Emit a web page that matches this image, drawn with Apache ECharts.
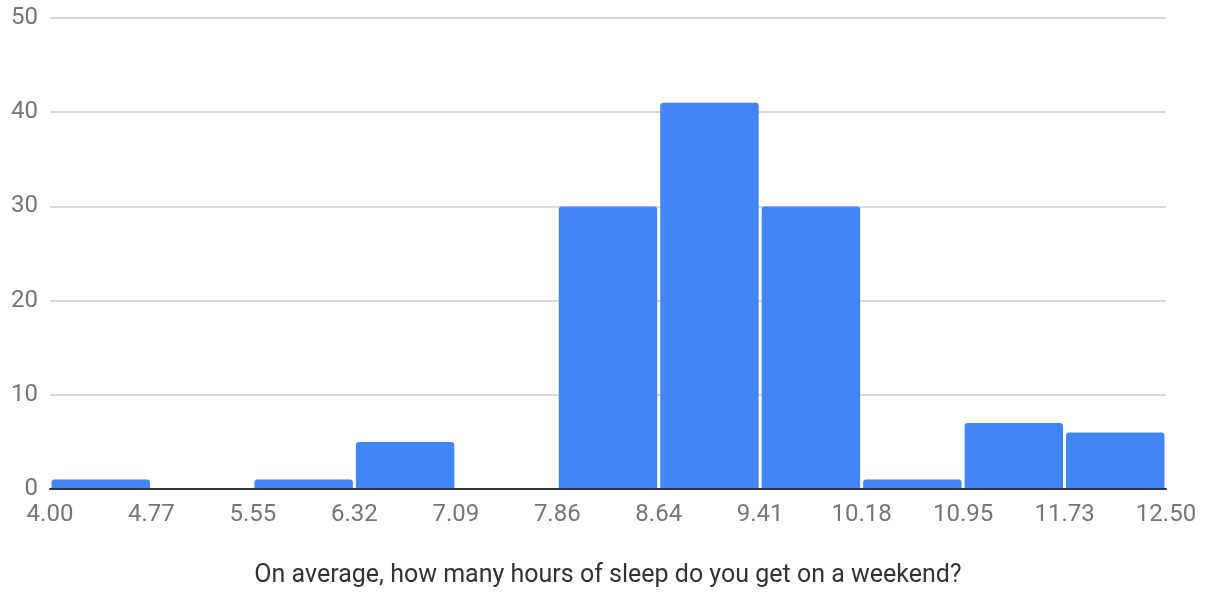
<!DOCTYPE html>
<html>
<head>
<meta charset="utf-8">
<script src="https://cdn.jsdelivr.net/npm/echarts@6/dist/echarts.min.js"></script>
<style>
  html, body { margin: 0; padding: 0; background: #fff; overflow: hidden; }
  #chart { width: 1212px; height: 593px; }
</style>
</head>
<body>
<div id="chart"></div>
<script>
// Bin boundaries (hours) shown under the axis
const binEdges = ['4.00', '4.77', '5.55', '6.32', '7.09', '7.86', '8.64', '9.41', '10.18', '10.95', '11.73', '12.50'];
// Number of responses in each bin
const counts = [1, 0, 1, 5, 0, 30, 41, 30, 1, 7, 6];
const yTicks = [0, 10, 20, 30, 40, 50];
const xTitle = 'On average, how many hours of sleep do you get on a weekend?';

const chart = echarts.init(document.getElementById('chart'), null, { renderer: 'canvas' });

const data = counts.map((c, i) => [i, c]);

chart.setOption({
  animation: false,
  grid: { left: 50, right: 46, top: 18, bottom: 97, containLabel: false },
  xAxis: {
    type: 'value',
    min: 0,
    max: binEdges.length - 1,
    interval: 1,
    name: xTitle,
    nameLocation: 'middle',
    nameGap: 74,
    nameTextStyle: { color: '#333', fontSize: 25, fontFamily: 'Roboto' },
    axisLine: { show: true, onZero: true, lineStyle: { color: '#333', width: 2 } },
    axisTick: { show: false },
    splitLine: { show: false },
    axisLabel: {
      color: '#757575', fontSize: 24, fontFamily: 'Roboto', margin: 14,
      formatter: v => binEdges[Math.round(v)]
    }
  },
  yAxis: {
    type: 'value',
    min: yTicks[0],
    max: yTicks[yTicks.length - 1],
    interval: 10,
    axisLine: { show: false },
    axisTick: { show: false },
    splitLine: { show: true, lineStyle: { color: '#cccccc', width: 1.5 } },
    axisLabel: { color: '#757575', fontSize: 24, fontFamily: 'Roboto', margin: 12 }
  },
  series: [{
    type: 'custom',
    data: data,
    renderItem: function (params, api) {
      const i = api.value(0);
      const v = api.value(1);
      if (!v) return null;
      const p0 = api.coord([i, 0]);
      const p1 = api.coord([i + 1, v]);
      const gap = 1.5;
      return {
        type: 'rect',
        shape: { x: p0[0] + gap, y: p1[1], width: p1[0] - p0[0] - gap * 2, height: p0[1] - p1[1] - 1, r: [3, 3, 0, 0] },
        style: { fill: '#4285F4' }
      };
    },
    encode: { x: 0, y: 1 },
    z: 2
  }]
});
</script>
</body>
</html>
